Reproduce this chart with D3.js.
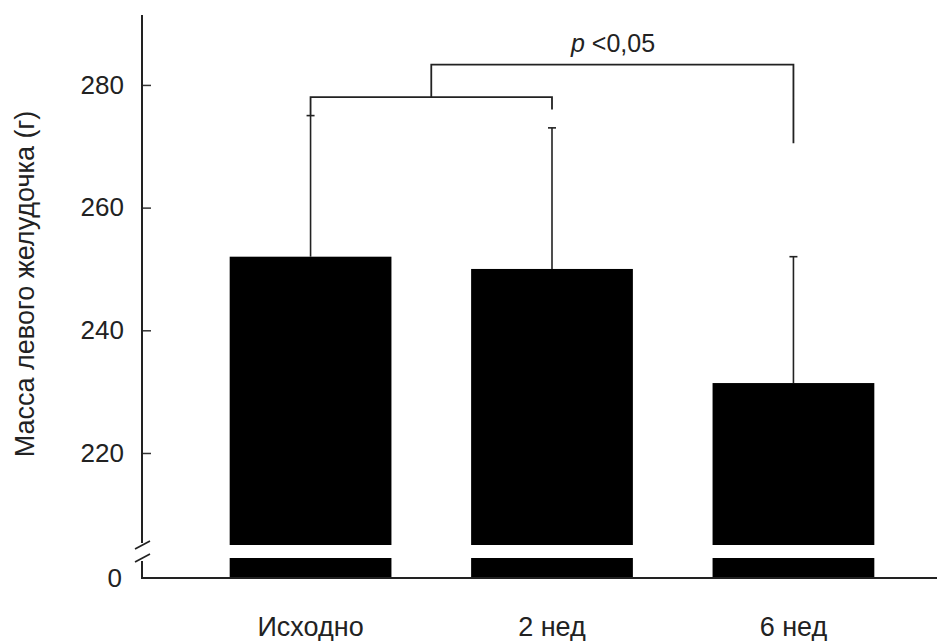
<!DOCTYPE html>
<html>
<head>
<meta charset="utf-8">
<script src="https://cdn.jsdelivr.net/npm/d3@7"></script>
<style>
  html, body { margin: 0; padding: 0; background: #fff; }
  svg text { font-family: "Liberation Sans", Arial, Helvetica, sans-serif; fill: #222; }
</style>
</head>
<body>
<svg id="chart" width="937" height="641"></svg>
<script>
// ---- data ----
const categories = ["Исходно", "2 нед", "6 нед"];
const means = [252, 250, 231.4];
const errorTops = [275, 273, 252];
const yTicks = [220, 240, 260, 280];
const lowerTicks = [0];
const yLabel = "Масса левого желудочка (г)";
const pLabel = "<0,05";
// significance brackets: [fromIndex, toIndex, level, leftLegEnd, rightLegEnd]
const innerBracket = [0, 1, 278, 275, 276];
const outerBracket = [0.5, 2, 283.3, 278, 270.5];

// ---- layout ----
const svg = d3.select("#chart");
const axisX = 142;
const upperBottom = 545, upperTop = 15;
const lowerTop = 558, baseline = 578;

const x = d3.scaleBand().domain(categories).range([150, 954])
  .paddingInner(0.33).paddingOuter(0.33);
const y = d3.scaleLinear().domain([205, 291.4]).range([upperBottom, upperTop]);
const yLow = d3.scaleLinear().domain([0, 3.3]).range([baseline, lowerTop]);
const cx = i => x(categories[0]) + x.step() * i + x.bandwidth() / 2;

// bars: upper part
svg.append("g").selectAll("rect").data(categories).join("rect")
  .attr("x", d => x(d)).attr("width", x.bandwidth())
  .attr("y", (d, i) => y(means[i]))
  .attr("height", (d, i) => upperBottom - y(means[i]))
  .attr("fill", "#000");
// bars: lower stub
svg.append("g").selectAll("rect").data(categories).join("rect")
  .attr("x", d => x(d)).attr("width", x.bandwidth())
  .attr("y", yLow(yLow.domain()[1]))
  .attr("height", baseline - yLow(yLow.domain()[1]))
  .attr("fill", "#000");

// error bars
const eg = svg.append("g").attr("stroke", "#222").attr("stroke-width", 1.6);
categories.forEach((c, i) => {
  const xc = x(c) + x.bandwidth() / 2;
  eg.append("line").attr("x1", xc).attr("x2", xc)
    .attr("y1", y(means[i])).attr("y2", y(errorTops[i]));
  eg.append("line").attr("x1", xc - 4).attr("x2", xc + 4)
    .attr("y1", y(errorTops[i])).attr("y2", y(errorTops[i]));
});

// y axis (upper)
const yAxis = d3.axisLeft(y).tickValues(yTicks).tickSize(-9).tickPadding(18);
const gy = svg.append("g").attr("transform", `translate(${axisX},0)`).call(yAxis);
gy.select(".domain").remove();
gy.selectAll(".tick line").attr("stroke", "#333").attr("stroke-width", 1.5);
gy.selectAll(".tick text").attr("font-size", 26).attr("fill", "#222");
// lower axis tick label
const gl = svg.append("g").attr("transform", `translate(${axisX},0)`)
  .call(d3.axisLeft(yLow).tickValues(lowerTicks).tickFormat(d3.format("d")).tickSize(0).tickPadding(20));
gl.select(".domain").remove();
gl.selectAll(".tick text").attr("font-size", 26).attr("fill", "#222");
svg.selectAll(".tick text").style("font-family", "'Liberation Sans', Arial, sans-serif");

// axis lines
const ag = svg.append("g").attr("stroke", "#222").attr("stroke-width", 2).attr("fill", "none");
ag.append("line").attr("x1", axisX).attr("x2", axisX).attr("y1", upperTop).attr("y2", upperBottom - 2);
ag.append("line").attr("x1", axisX).attr("x2", axisX).attr("y1", lowerTop + 3).attr("y2", baseline);
ag.append("line").attr("x1", axisX - 1).attr("x2", 937).attr("y1", baseline).attr("y2", baseline);
// break marks
[upperBottom, lowerTop].forEach(yy => {
  ag.append("line").attr("x1", axisX - 7).attr("x2", axisX + 8)
    .attr("y1", yy + 4).attr("y2", yy - 4).attr("stroke-width", 1.6);
});

// x labels
svg.append("g").selectAll("text").data(categories).join("text")
  .attr("x", d => x(d) + x.bandwidth() / 2).attr("y", 636)
  .attr("text-anchor", "middle").attr("font-size", 27).text(d => d);

// y label
svg.append("text").attr("transform", "translate(34,284) rotate(-90)")
  .attr("text-anchor", "middle").attr("font-size", 27).attr("fill", "#333").text(yLabel);

// brackets
const bg = svg.append("g").attr("stroke", "#222").attr("stroke-width", 1.8).attr("fill", "none");
function bracket(b) {
  const [i0, i1, lvl, l0, l1] = b;
  const x0 = cx(i0), x1 = cx(i1);
  bg.append("path").attr("d",
    `M${x0},${y(l0)}V${y(lvl)}H${x1}V${y(l1)}`);
}
bracket(innerBracket);
bracket(outerBracket);

// p label
const pt = svg.append("text").attr("x", 613).attr("y", 52).attr("text-anchor", "middle").attr("font-size", 25);
pt.append("tspan").attr("font-style", "italic").text("p");
pt.append("tspan").text(" " + pLabel);
</script>
</body>
</html>
